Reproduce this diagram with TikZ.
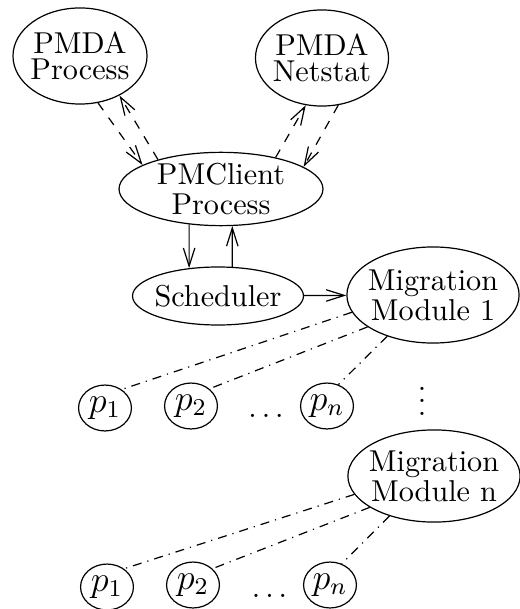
\documentclass[tikz,border=0pt]{standalone}
\usepackage{tikz}
\usetikzlibrary{shapes.geometric, arrows.meta}

\begin{document}
\begin{tikzpicture}
 [x=0.331pt, y=-0.331pt, >={Straight Barb[length=6pt, width=3.8pt]},
  big node/.style={ellipse, draw, inner sep=0pt, align=center, font=\fontsize{10}{10}\selectfont},
  p node/.style={ellipse, draw, inner sep=0pt, minimum width=17.5pt, minimum height=15.2pt, font=\fontsize{12}{14}\selectfont},
  dots node/.style={anchor=base, inner sep=0pt}]

 \useasboundingbox (0,0) rectangle (520,609);

 \node[big node, minimum width=44pt, minimum height=31.8pt, inner xsep=-0.7pt] (pmdap) at (80,56) {PMDA\\[-1.5pt]Process};
 \node[big node, minimum width=44pt, minimum height=31.8pt, inner xsep=-0.7pt] (pmdan) at (322,58) {PMDA\\[-1.5pt]Netstat};
\node[big node, minimum width=67.5pt, minimum height=23.8pt] (client) at (221,189) {PMClient\\Process};
\node[big node, minimum width=56.6pt, minimum height=19.2pt, inner xsep=-1.2pt] (sched) at (218,296) {Scheduler};

\node[big node, minimum width=57pt, minimum height=31.8pt, inner xsep=-1.4pt] (mig1) at (433,295) {Migration\\Module 1};
\node[big node, minimum width=57pt, minimum height=30.5pt, inner xsep=-1.4pt] (migN) at (434,476) {Migration\\Module n};

\node[p node] (a1) at (105,408) {$p_1$};
\node[p node] (a2) at (191,406) {$p_2$};
\node[p node] (an) at (327,406) {$p_n$};
\node[dots node] (adots) at (266,417) {$\dots$};
\node[dots node] (vdots) at (422,415) {$\vdots$};

\node[p node] (b1) at (107,587) {$p_1$};
\node[p node] (b2) at (193,585) {$p_2$};
\node[p node] (bn) at (330,585) {$p_n$};
\node[dots node] (bdots) at (269.5,597.5) {$\dots$};

\path
  (pmdap.-69) edge [->, dashed] (client.163)
  (client.155) edge [->, dashed] (pmdap.-45)

  (client.30) edge [->, dashed] (pmdan.-109)
  (pmdan.-71) edge [->, dashed] (client.15)

  (client.-132) edge [->] (sched.136)
  (sched.64) edge [->] (client.-73)

  (sched) edge [->] (mig1)

  (mig1.-168) edge [dash dot] (a1.48)
  (mig1.-154) edge [dash dot] (a2.43)
  (mig1.-138) edge [dash dot] (an.62)

  (migN.-167) edge [dash dot] (b1.47)
  (migN.-154) edge [dash dot] (b2.40)
  (migN.-138) edge [dash dot] (bn.61);

\end{tikzpicture}
\end{document}
